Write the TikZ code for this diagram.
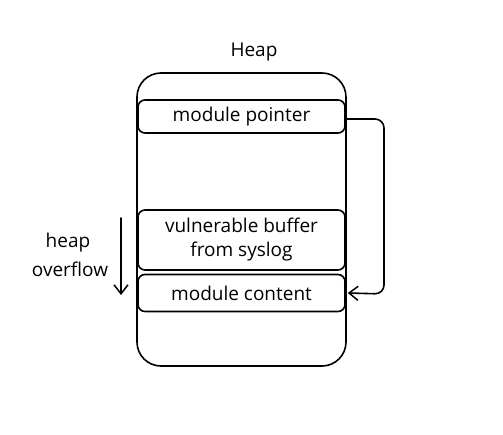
\documentclass[tikz,border=0pt]{standalone}
\usepackage{fontspec}
\setmainfont{Open Sans}
\usetikzlibrary{arrows.meta}
\begin{document}
\begin{tikzpicture}[x=1pt,y=-1pt,
  line width=1.6pt, line cap=round, line join=round,
  slot/.style={draw, rounded corners=7pt, minimum width=207pt, inner sep=0pt, align=center, font=\fontsize{19}{24}\selectfont},
  lbl/.style={font=\fontsize{19}{24}\selectfont, align=center},
  arr/.style={-{Straight Barb[length=9pt,width=14pt,line width=1.5pt]}}]
\useasboundingbox (0,0) rectangle (503,435);
\draw[rounded corners=24pt] (137,73) rectangle (346,366);
\node[lbl] (heap) at (254,52) {Heap};
\node[slot, minimum height=33pt] (mp) at (241.5,116.5) {module pointer};
\node[slot, minimum height=60pt] (vb) at (241.5,240) {vulnerable buffer\\from syslog};
\node[slot, minimum height=37pt] (mc) at (241.5,293) {module content};
\coordinate (t1) at (384,119);
\draw[arr, rounded corners=9pt] (mp.east |- t1) -- (t1) -- (384,294) -- ([xshift=2pt]mc.east);
\node[lbl] (hl) at (68,243) {heap};
\node[lbl] (ol) at (70,269) {overflow};
\coordinate (o1) at (121,218);
\coordinate (o2) at (121,295);
\draw[arr] (o1) -- (o2);
\end{tikzpicture}
\end{document}
